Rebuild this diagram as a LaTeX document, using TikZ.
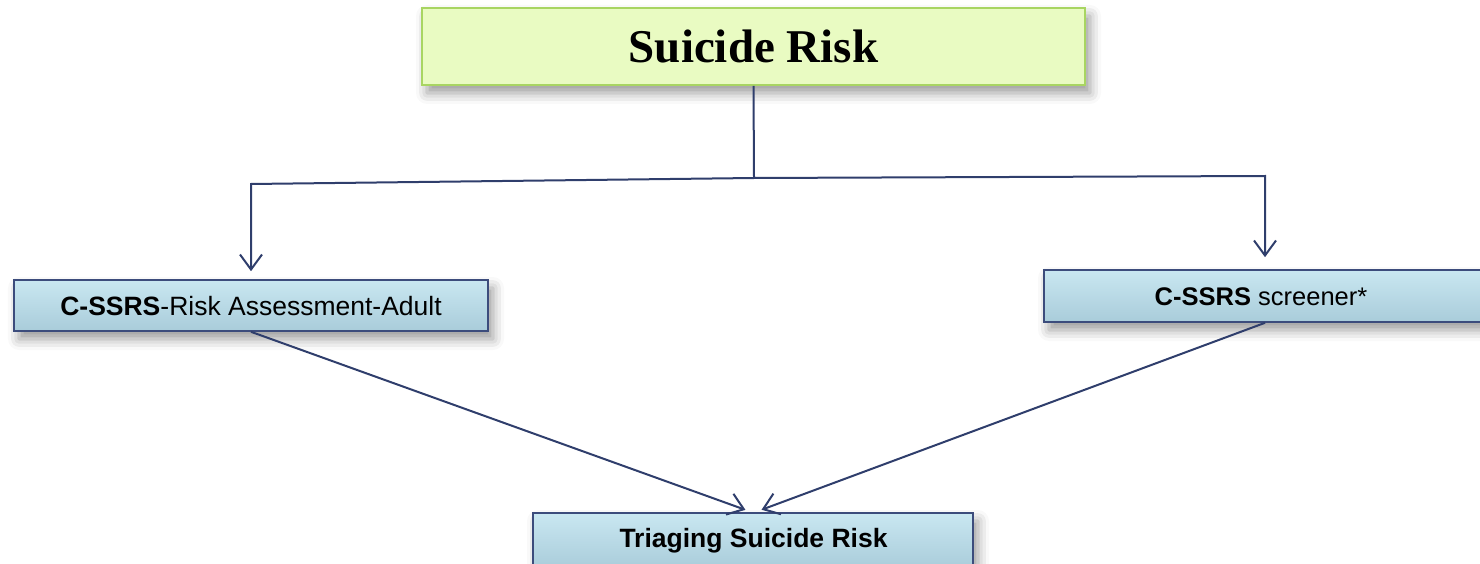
\documentclass[tikz,border=0pt]{standalone}
\usepackage{fontspec}
\setmainfont{Liberation Serif}
\setsansfont{Liberation Sans}
\usetikzlibrary{arrows.meta,shadows.blur}
\definecolor{linenavy}{HTML}{2F3E6C}
\definecolor{boxedge}{HTML}{3C4C7C}
\definecolor{boxtop}{HTML}{C9E7F1}
\definecolor{boxbottom}{HTML}{A9CCDA}
\definecolor{greenfill}{HTML}{E9FBC2}
\definecolor{greenedge}{HTML}{A8D562}
\tikzset{
  softshadow/.style={blur shadow={shadow xshift=5pt, shadow yshift=-8pt,
      shadow blur radius=11pt, shadow opacity=40}},
  titlebox/.style={draw=greenedge, line width=1.6pt, fill=greenfill, softshadow,
      minimum width=663pt, minimum height=77pt, inner sep=0pt,
      font=\fontsize{47}{50}\selectfont\bfseries},
  bluebox/.style={draw=boxedge, line width=1.6pt, top color=boxtop,
      bottom color=boxbottom, softshadow, inner sep=0pt},
  boxtext/.style={font=\sffamily\fontsize{#1}{28}\selectfont},
  boxtext/.default=26.5,
  boldtext/.style={font=\sffamily\bfseries\fontsize{26.5}{28}\selectfont},
  link/.style={draw=linenavy, line width=2pt},
  arrowlink/.style={link, -{Straight Barb[length=15pt,width=22pt,line width=2pt]}},
}
\begin{document}
\begin{tikzpicture}[x=1pt,y=-1pt]
  \useasboundingbox (0,0) rectangle (1480,564);

  % boxes
  \node[titlebox] (risk) at (753.5,46.5) {Suicide Risk};
  \node[bluebox, minimum width=474pt, minimum height=51pt] (adult) at (251,305.5) {};
  \node[boxtext] (adulttext) at (251,306) {\textbf{C-SSRS}-Risk Assessment-Adult};
  \node[bluebox, minimum width=442pt, minimum height=52pt] (screen) at (1265,296) {};
  \node[boxtext=25.5] (screentext) at (1261,297) {\textbf{C-SSRS} screener*};
  \node[bluebox, minimum width=440pt, minimum height=56pt] (triage) at (753,541) {};
  \node[boldtext] (triagetext) at (753.5,541) {Triaging Suicide Risk};

  % branching connector
  \coordinate (split) at (754,178);
  \coordinate (leftturn) at (251,184);
  \coordinate (rightturn) at (1265,176);
  \draw[link] (risk.south) -- (split);
  \draw[arrowlink, shorten >=8pt] (split) -- (leftturn) -- (adult.north);
  \draw[arrowlink, shorten >=12pt] (split) -- (rightturn) -- (screen.north);

  % converging connectors
  \draw[arrowlink, shorten >=7pt] (adult.south) -- ([xshift=-1pt]triage.north);
  \draw[arrowlink, shorten >=7pt] (screen.south) -- ([xshift=2pt]triage.north);
\end{tikzpicture}
\end{document}
